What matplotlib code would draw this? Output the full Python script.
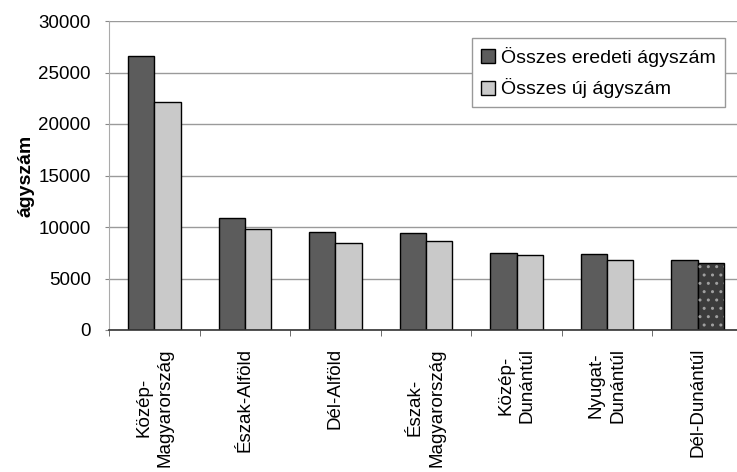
import numpy as np
import matplotlib
matplotlib.use("Agg")
import matplotlib.pyplot as plt

plt.rcParams['font.family'] = ['Liberation Sans', 'DejaVu Sans']

# regions and bed counts
regions = ['Közép-\nMagyarország', 'Észak-Alföld', 'Dél-Alföld', 'Észak-\nMagyarország',
           'Közép-\nDunántúl', 'Nyugat-\nDunántúl', 'Dél-Dunántúl']
eredeti = [26600, 10900, 9500, 9400, 7500, 7400, 6800]
uj = [22100, 9800, 8400, 8600, 7300, 6800, 6500]

x = np.arange(len(regions))
w = 0.29

fig = plt.figure(figsize=(7.37, 4.72), dpi=100)
ax = fig.add_axes([109/737, 1 - 330/472, 634/737, 309/472])

ax.set_axisbelow(True)
ax.yaxis.grid(True, color='#9a9a9a', linewidth=1.0)

ax.bar(x - w/2, eredeti, w, color='#5c5c5c', edgecolor='black', linewidth=1.0,
       label='Összes eredeti ágyszám')
bars_uj = ax.bar(x + w/2, uj, w, color='#c9c9c9', edgecolor='black', linewidth=1.0,
                 label='Összes új ágyszám')
# last bar came out dark and speckled in the scan
bars_uj[-1].set_facecolor('#3c3c3c')
ax.bar(x[-1] + w/2, uj[-1], w, color='none', edgecolor='#a0a0a0', hatch='..', linewidth=0)

ax.set_xlim(-0.5, len(regions) - 0.5)
ax.set_ylim(0, 30000)
ax.set_yticks(np.arange(0, 30001, 5000))
ax.tick_params(axis='y', length=3, color='#888888', pad=10, labelsize=13.5)

ax.set_xticks(x)
ax.set_xticklabels(regions, rotation=90, va='top', ha='center', multialignment='center',
                   linespacing=1.35)
ax.set_xticks(np.arange(-0.5, len(regions)), minor=True)
ax.tick_params(axis='x', which='major', length=0, pad=13, labelsize=13.5)
ax.tick_params(axis='x', which='minor', length=4, color='#555555', direction='out')

for s in ['top', 'right']:
    ax.spines[s].set_visible(False)
ax.spines['left'].set_color('#aaaaaa')
ax.spines['bottom'].set_color('#333333')
ax.spines['bottom'].set_linewidth(1.2)

ax.set_ylabel('ágyszám', fontsize=14, fontweight='bold')
ax.yaxis.set_label_coords(-0.117, 0.5)

leg = ax.legend(loc='upper left', bbox_to_anchor=(472/737, 1 - 38/472),
                bbox_transform=fig.transFigure, borderaxespad=0, fontsize=14,
                handlelength=0.75, handleheight=0.75, handletextpad=0.3,
                borderpad=0.45, labelspacing=0.6, fancybox=False, framealpha=1)
leg.get_frame().set_edgecolor('#999999')
leg.get_frame().set_linewidth(1.0)

fig.savefig('out.png', dpi=100)
